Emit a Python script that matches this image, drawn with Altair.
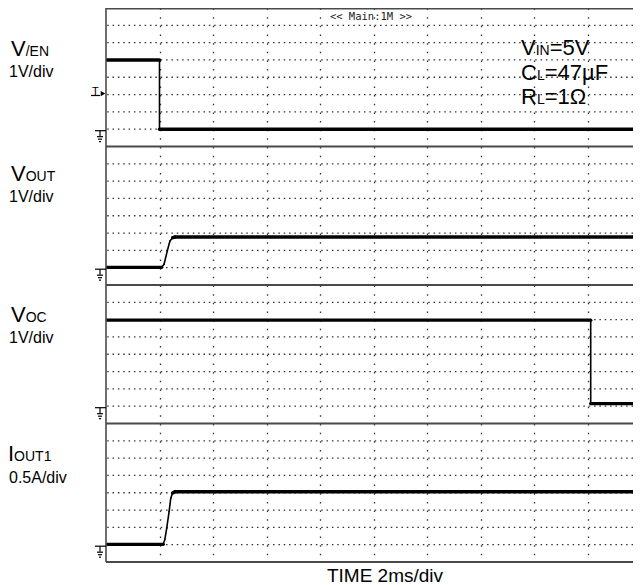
import altair as alt
import pandas as pd

# ---------------- data (time in ms, 2 ms/div) ----------------
en_t = [0.0, 2.0, 2.0, 20.0]
en_v = [4.0, 4.0, 0.0, 0.0]                      # V/EN, volts (1 V/div)

vout_t = [0.0, 2.08, 2.17, 2.29, 2.39, 2.49, 2.58, 20.0]
vout_v = [0.02, 0.02, 0.2, 0.96, 1.54, 1.73, 1.77, 1.77]   # VOUT, volts (1 V/div)

voc_t = [0.0, 18.12, 18.12, 20.0]
voc_v = [4.97, 4.97, 0.15, 0.15]                 # VOC, volts (1 V/div)

iout_t = [0.0, 2.14, 2.2, 2.27, 2.36, 2.42, 2.49, 2.58, 20.0]
iout_a = [0.01, 0.01, 0.15, 0.48, 0.96, 1.34, 1.49, 1.53, 1.53]  # IOUT1, amps (0.5 A/div)

channels = [(en_t, en_v, 1.0), (vout_t, vout_v, 1.0), (voc_t, voc_v, 1.0), (iout_t, iout_a, 0.5)]
x_grid = [2, 4, 6, 8, 10, 12, 14, 16, 18]

# ---------------- layout ----------------
PX_PER_MS = 26.75            # 2 ms/div, 53.5 px per division
W = 527                      # visible part of the screen (right edge cut off)
H = 138.5                    # one channel band = 8 divisions
DIV = H / 8
NP = 4
FONT = "Liberation Sans"
GRID = "#333333"
BORDER = "#4a4a4a"
ONE = pd.DataFrame({"k": [0]})

CW = {"V": .667, "I": .278, "N": .722, "=": .584, "5": .556, "C": .722, "L": .556,
      "4": .556, "7": .556, "µ": .576, "F": .611, "R": .722, "1": .556, "Ω": .768,
      "O": .778, "U": .722, "T": .611, "/": .278, "E": .667}


def tw(s, size):
    return sum(CW.get(c, 0.6) for c in s) * size


def txt(s, x, y, size, font=FONT, align="left", color="black"):
    return alt.Chart(ONE).mark_text(
        text=s, font=font, fontSize=size, align=align, baseline="alphabetic", color=color
    ).encode(x=alt.value(x), y=alt.value(y))


def rich(parts, x, y):
    out = []
    for s, size in parts:
        out.append(txt(s, x, y, size))
        x += tw(s, size)
    return out


def seg(x1, x2, y1, y2, w=1.2, color="black"):
    return alt.Chart(ONE).mark_rule(color=color, strokeWidth=w).encode(
        x=alt.value(x1), x2=alt.value(x2), y=alt.value(y1), y2=alt.value(y2))


def ground(top):
    yg = top + 7 * DIV
    return [
        seg(-11, 0, yg + 1.5, yg + 1.5),
        seg(-6, -6, yg + 1.5, yg + 7),
        seg(-9, -3, yg + 7.5, yg + 7.5),
        seg(-8, -4, yg + 10, yg + 10),
        seg(-7, -5, yg + 12.5, yg + 12.5),
    ]


# trace table: y in screen divisions (0 = bottom of screen, 32 = top)
rows = []
for p, (ts, vs, per_div) in enumerate(channels):
    base_div = 8 * (NP - 1 - p) + 1          # ground marker one division above band bottom
    for i in range(len(ts) - 1):
        kind = "level" if abs(vs[i + 1] - vs[i]) < 0.1 * per_div else "edge"
        for j in (i, i + 1):
            rows.append({"seg": f"{p}-{i}", "o": j, "t": ts[j],
                         "y": base_div + vs[j] / per_div, "kind": kind})
trace = pd.DataFrame(rows)

row_df = pd.DataFrame({"r": [k for k in range(1, 8 * NP) if k % 8 != 0]})
border_df = pd.DataFrame({"b": [8 * k for k in range(0, NP)]})

xscale = alt.Scale(domain=[0, W / PX_PER_MS], nice=False, zero=False)
yscale = alt.Scale(domain=[0, 8 * NP], nice=False, zero=False)

dot_step_x = 2 * PX_PER_MS / 10

# dotted horizontal division rows
grid_rows = alt.Chart(row_df).mark_rule(
    color=GRID, strokeWidth=1.3, strokeDash=[1.5, dot_step_x - 1.5]
).encode(y=alt.Y("r:Q", scale=yscale, axis=None))

lines = alt.Chart(trace).mark_line(
    color="black", strokeCap="round", strokeJoin="round", clip=True
).encode(
    x=alt.X("t:Q", scale=xscale,
            axis=alt.Axis(values=x_grid, grid=True, gridDash=[1.5, DIV / 2 - 1.5],
                          gridColor=GRID, gridWidth=1.3, gridOpacity=1,
                          labels=False, ticks=False, domain=False, title=None)),
    y=alt.Y("y:Q", scale=yscale, axis=None),
    detail="seg:N",
    order="o:Q",
    strokeWidth=alt.StrokeWidth("kind:N",
                                scale=alt.Scale(domain=["level", "edge"], range=[3.4, 1.6]),
                                legend=None),
)

borders = alt.Chart(border_df).mark_rule(color=BORDER, strokeWidth=1.8).encode(
    y=alt.Y("b:Q", scale=yscale, axis=None))
left_border = seg(0, 0, 0, 4 * H, w=1.6, color=BORDER)
top_border = seg(0, W, 0.8, 0.8, w=1.6, color=BORDER)

layers = [grid_rows, lines, borders, left_border, top_border]

# channel 1 annotations
layers += rich([("V", 22), ("/EN", 14)], -95, 48)
layers.append(txt("1V/div", -97, 69, 16))
layers += rich([("V", 22), ("IN", 14), ("=5V", 22)], 415, 47)
layers += rich([("C", 22), ("L", 14), ("=47µF", 22)], 415, 71.5)
layers += rich([("R", 22), ("L", 14), ("=1Ω", 22)], 415, 96)
layers.append(txt("<< Main:1M >>", 265, 12, 10.5, font="DejaVu Sans Mono", align="center", color="#222"))
layers.append(txt("T", -14, 87, 11))
layers.append(seg(-15, -6, 87.5, 87.5))
layers.append(alt.Chart(ONE).mark_point(shape="triangle-right", filled=True, color="black", size=28, opacity=1)
              .encode(x=alt.value(-3), y=alt.value(5 * DIV - 1)))

# channel 2..4 annotations
layers += rich([("V", 22), ("OUT", 14)], -95, H + 34)
layers.append(txt("1V/div", -97, H + 55, 16))
layers += rich([("V", 22), ("OC", 14)], -95, 2 * H + 37)
layers.append(txt("1V/div", -97, 2 * H + 57.5, 16))
layers += rich([("I", 22), ("OUT1", 14)], -98, 3 * H + 37)
layers.append(txt("0.5A/div", -97, 3 * H + 59, 16))
layers.append(txt("TIME 2ms/div", 279, 4 * H + 20, 19, align="center"))

for p in range(NP):
    layers += ground(p * H)

chart = alt.layer(*layers).properties(
    width=W,
    height=4 * H,
    autosize=alt.AutoSizeParams(type="none"),
    padding={"left": 98, "top": 0, "right": 0, "bottom": 23},
    background="white",
).configure_view(stroke=None)

chart.save("out.html", embed_options={"renderer": "svg", "actions": False})
